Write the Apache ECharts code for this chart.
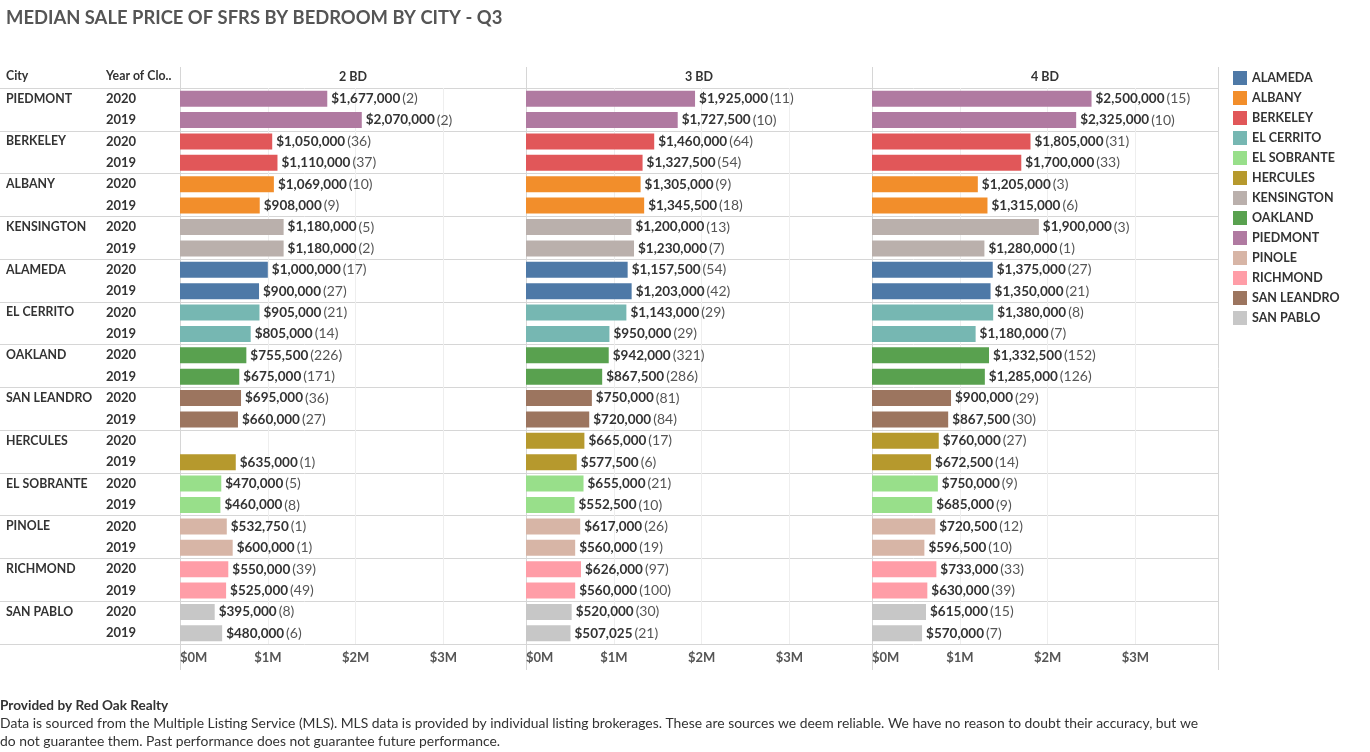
<!DOCTYPE html>
<html>
<head>
<meta charset="utf-8">
<script src="https://cdn.jsdelivr.net/npm/echarts@6/dist/echarts.min.js"></script>
<style>
html,body{margin:0;padding:0;background:#fff;}
#chart{width:1370px;height:752px;}
</style>
</head>
<body>
<div id="chart"></div>
<script>
// ---------- DATA ----------
const cities = ['PIEDMONT','BERKELEY','ALBANY','KENSINGTON','ALAMEDA','EL CERRITO','OAKLAND','SAN LEANDRO','HERCULES','EL SOBRANTE','PINOLE','RICHMOND','SAN PABLO'];
const years = ['2020','2019'];
const panels = ['2 BD','3 BD','4 BD'];
const legendCities = ['ALAMEDA','ALBANY','BERKELEY','EL CERRITO','EL SOBRANTE','HERCULES','KENSINGTON','OAKLAND','PIEDMONT','PINOLE','RICHMOND','SAN LEANDRO','SAN PABLO'];
const axisTicks = [0, 1000000, 2000000, 3000000];

// [2020, 2019] per city, in cities order
const price2BD = [[1677000,2070000],[1050000,1110000],[1069000,908000],[1180000,1180000],[1000000,900000],[905000,805000],[755500,675000],[695000,660000],[null,635000],[470000,460000],[532750,600000],[550000,525000],[395000,480000]];
const count2BD = [[2,2],[36,37],[10,9],[5,2],[17,27],[21,14],[226,171],[36,27],[null,1],[5,8],[1,1],[39,49],[8,6]];
const price3BD = [[1925000,1727500],[1460000,1327500],[1305000,1345500],[1200000,1230000],[1157500,1203000],[1143000,950000],[942000,867500],[750000,720000],[665000,577500],[655000,552500],[617000,560000],[626000,560000],[520000,507025]];
const count3BD = [[11,10],[64,54],[9,18],[13,7],[54,42],[29,29],[321,286],[81,84],[17,6],[21,10],[26,19],[97,100],[30,21]];
const price4BD = [[2500000,2325000],[1805000,1700000],[1205000,1315000],[1900000,1280000],[1375000,1350000],[1380000,1180000],[1332500,1285000],[900000,867500],[760000,672500],[750000,685000],[720500,596500],[733000,630000],[615000,570000]];
const count4BD = [[15,10],[31,33],[3,6],[3,1],[27,21],[8,7],[152,126],[29,30],[27,14],[9,9],[12,10],[33,39],[15,7]];

const cityColors = {
  'ALAMEDA':'#4e79a7','ALBANY':'#f28e2b','BERKELEY':'#e15759','EL CERRITO':'#76b7b2',
  'EL SOBRANTE':'#98df8a','HERCULES':'#b6992d','KENSINGTON':'#bab0ac','OAKLAND':'#59a14f',
  'PIEDMONT':'#b07aa1','PINOLE':'#d7b5a6','RICHMOND':'#ff9da7','SAN LEANDRO':'#9c755f','SAN PABLO':'#c7c7c7'
};

// ---------- BUILD ----------
const prices = [price2BD, price3BD, price4BD];
const counts = [count2BD, count3BD, count4BD];
const rowKeys = [];
cities.forEach(c => years.forEach(y => rowKeys.push(c + '|' + y)));

const FONT = 'Lato, "Open Sans", sans-serif';
const LINE = '#d6d6d6';
const GRIDLINE = '#eeeeee';
const AXMAX = 3940000;
const panelLeft = [180, 526, 872];
const panelW = 346;
const TOP = 88, H = 556;

function money(v){ return '$' + String(v).replace(/\B(?=(\d{3})+(?!\d))/g, ','); }

const grids = [], xAxes = [], yAxes = [], series = [];
panelLeft.forEach((l, p) => {
  grids.push({left: l, top: TOP, width: panelW, height: H, containLabel: false});
});
// background grids: horizontal separators and vertical panel borders
grids.push({left: 0, top: TOP, width: 1218, height: H});
grids.push({left: 180, top: 67, width: 1038, height: 603});

panels.forEach((name, p) => {
  xAxes.push({
    type: 'value', gridIndex: p, min: 0, max: AXMAX, interval: 1000000,
    axisLine: {show: false}, axisTick: {show: false},
    splitLine: {show: true, showMinLine: false, showMaxLine: false, lineStyle: {color: GRIDLINE, width: 1}},
    axisLabel: {
      margin: 7, color: '#555', fontWeight: 'bold', fontSize: 13, fontFamily: FONT,
      alignMinLabel: 'left', showMaxLabel: false,
      formatter: v => axisTicks.indexOf(v) >= 0 ? '$' + (v / 1000000) + 'M' : ''
    }
  });
});
xAxes.push({type: 'value', gridIndex: 3, min: 0, max: 1, show: false});
xAxes.push({
  type: 'value', gridIndex: 4, min: 0, max: 3, interval: 1,
  axisLine: {show: false}, axisTick: {show: false}, axisLabel: {show: false},
  splitLine: {show: true, lineStyle: {color: LINE, width: 1}}
});

// yAxis 0: year labels, yAxis 1: city labels (grid 0)
yAxes.push({
  type: 'category', gridIndex: 0, data: rowKeys, inverse: true, position: 'left', offset: 0,
  axisLine: {show: false}, axisTick: {show: false}, splitLine: {show: false},
  axisLabel: {interval: 0, align: 'left', margin: 74, color: '#333', fontWeight: 'bold', fontSize: 13, fontFamily: FONT,
    formatter: v => v.split('|')[1]}
});
yAxes.push({
  type: 'category', gridIndex: 0, data: rowKeys, inverse: true, position: 'left', offset: 0,
  axisLine: {show: false}, axisTick: {show: false}, splitLine: {show: false},
  axisLabel: {interval: 0, align: 'left', margin: 174, color: '#333', fontWeight: 'bold', fontSize: 12.3, fontFamily: FONT,
    formatter: (v, i) => (i % 2 === 0 ? v.split('|')[0] : '')}
});
[1, 2].forEach(g => {
  yAxes.push({
    type: 'category', gridIndex: g, data: rowKeys, inverse: true,
    axisLine: {show: false}, axisTick: {show: false}, axisLabel: {show: false}, splitLine: {show: false}
  });
});
yAxes.push({
  type: 'category', gridIndex: 3, data: cities, inverse: true,
  axisLine: {show: false}, axisTick: {show: false}, axisLabel: {show: false},
  splitLine: {show: true, interval: 0, lineStyle: {color: LINE, width: 1}}
});
yAxes.push({type: 'value', gridIndex: 4, min: 0, max: 1, show: false});

const yIndexForPanel = [0, 2, 3];
panels.forEach((pname, p) => {
  cities.forEach((city, ci) => {
    const data = rowKeys.map((k, r) => {
      if (Math.floor(r / 2) !== ci) return '-';
      const v = prices[p][ci][r % 2];
      return v == null ? '-' : v;
    });
    series.push({
      type: 'bar', name: city, xAxisIndex: p, yAxisIndex: yIndexForPanel[p],
      stack: 'panel' + p, barWidth: 16, data: data,
      itemStyle: {color: cityColors[city]},
      emphasis: {disabled: true},
      label: {
        show: true, position: 'right', distance: 4,
        formatter: params => {
          const r = params.dataIndex;
          const c = counts[p][Math.floor(r / 2)][r % 2];
          return '{v|' + money(params.value) + '}{c|(' + c + ')}';
        },
        rich: {
          v: {fontFamily: FONT, fontWeight: 'bold', fontSize: 13.5, color: '#333'},
          c: {fontFamily: FONT, fontSize: 14, color: '#555', padding: [0, 0, 0, 2]}
        }
      }
    });
  });
});

const graphics = [
  {type: 'text', left: 6, top: 9, style: {text: 'MEDIAN SALE PRICE OF SFRS BY BEDROOM BY CITY - Q3', fill: '#555', font: 'bold 18.4px ' + FONT}},
  {type: 'text', left: 6, top: 70, style: {text: 'City', fill: '#333', font: 'bold 12.3px ' + FONT}},
  {type: 'text', left: 106, top: 70, style: {text: 'Year of Clo..', fill: '#333', font: 'bold 12.3px ' + FONT}},
  {type: 'text', left: 0, top: 699, style: {text: 'Provided by Red Oak Realty', fill: '#333', font: 'bold 13.6px ' + FONT}},
  {type: 'text', left: 0, top: 715, style: {
    text: 'Data is sourced from the Multiple Listing Service (MLS). MLS data is provided by individual listing brokerages. These are sources we deem reliable. We have no reason to doubt their accuracy, but we\ndo not guarantee them. Past performance does not guarantee future performance.',
    fill: '#333', font: '13.9px ' + FONT, lineHeight: 18}}
];
panels.forEach((name, p) => {
  graphics.push({type: 'text', x: panelLeft[p] + panelW / 2, y: 77, style: {text: name, fill: '#333', font: 'bold 12.5px ' + FONT, align: 'center', verticalAlign: 'middle'}});
});

const chart = echarts.init(document.getElementById('chart'), null, {renderer: 'canvas'});
chart.setOption({
  animation: false,
  backgroundColor: '#fff',
  grid: grids,
  xAxis: xAxes,
  yAxis: yAxes,
  legend: {
    data: legendCities, orient: 'vertical', left: 1233, top: 71, padding: 0,
    itemWidth: 14, itemHeight: 14, itemGap: 6, icon: 'rect', selectedMode: false,
    textStyle: {color: '#333', fontWeight: 'bold', fontSize: 12.5, fontFamily: FONT, padding: [0, 0, 0, 0]}
  },
  graphic: graphics,
  series: series
});
</script>
</body>
</html>
